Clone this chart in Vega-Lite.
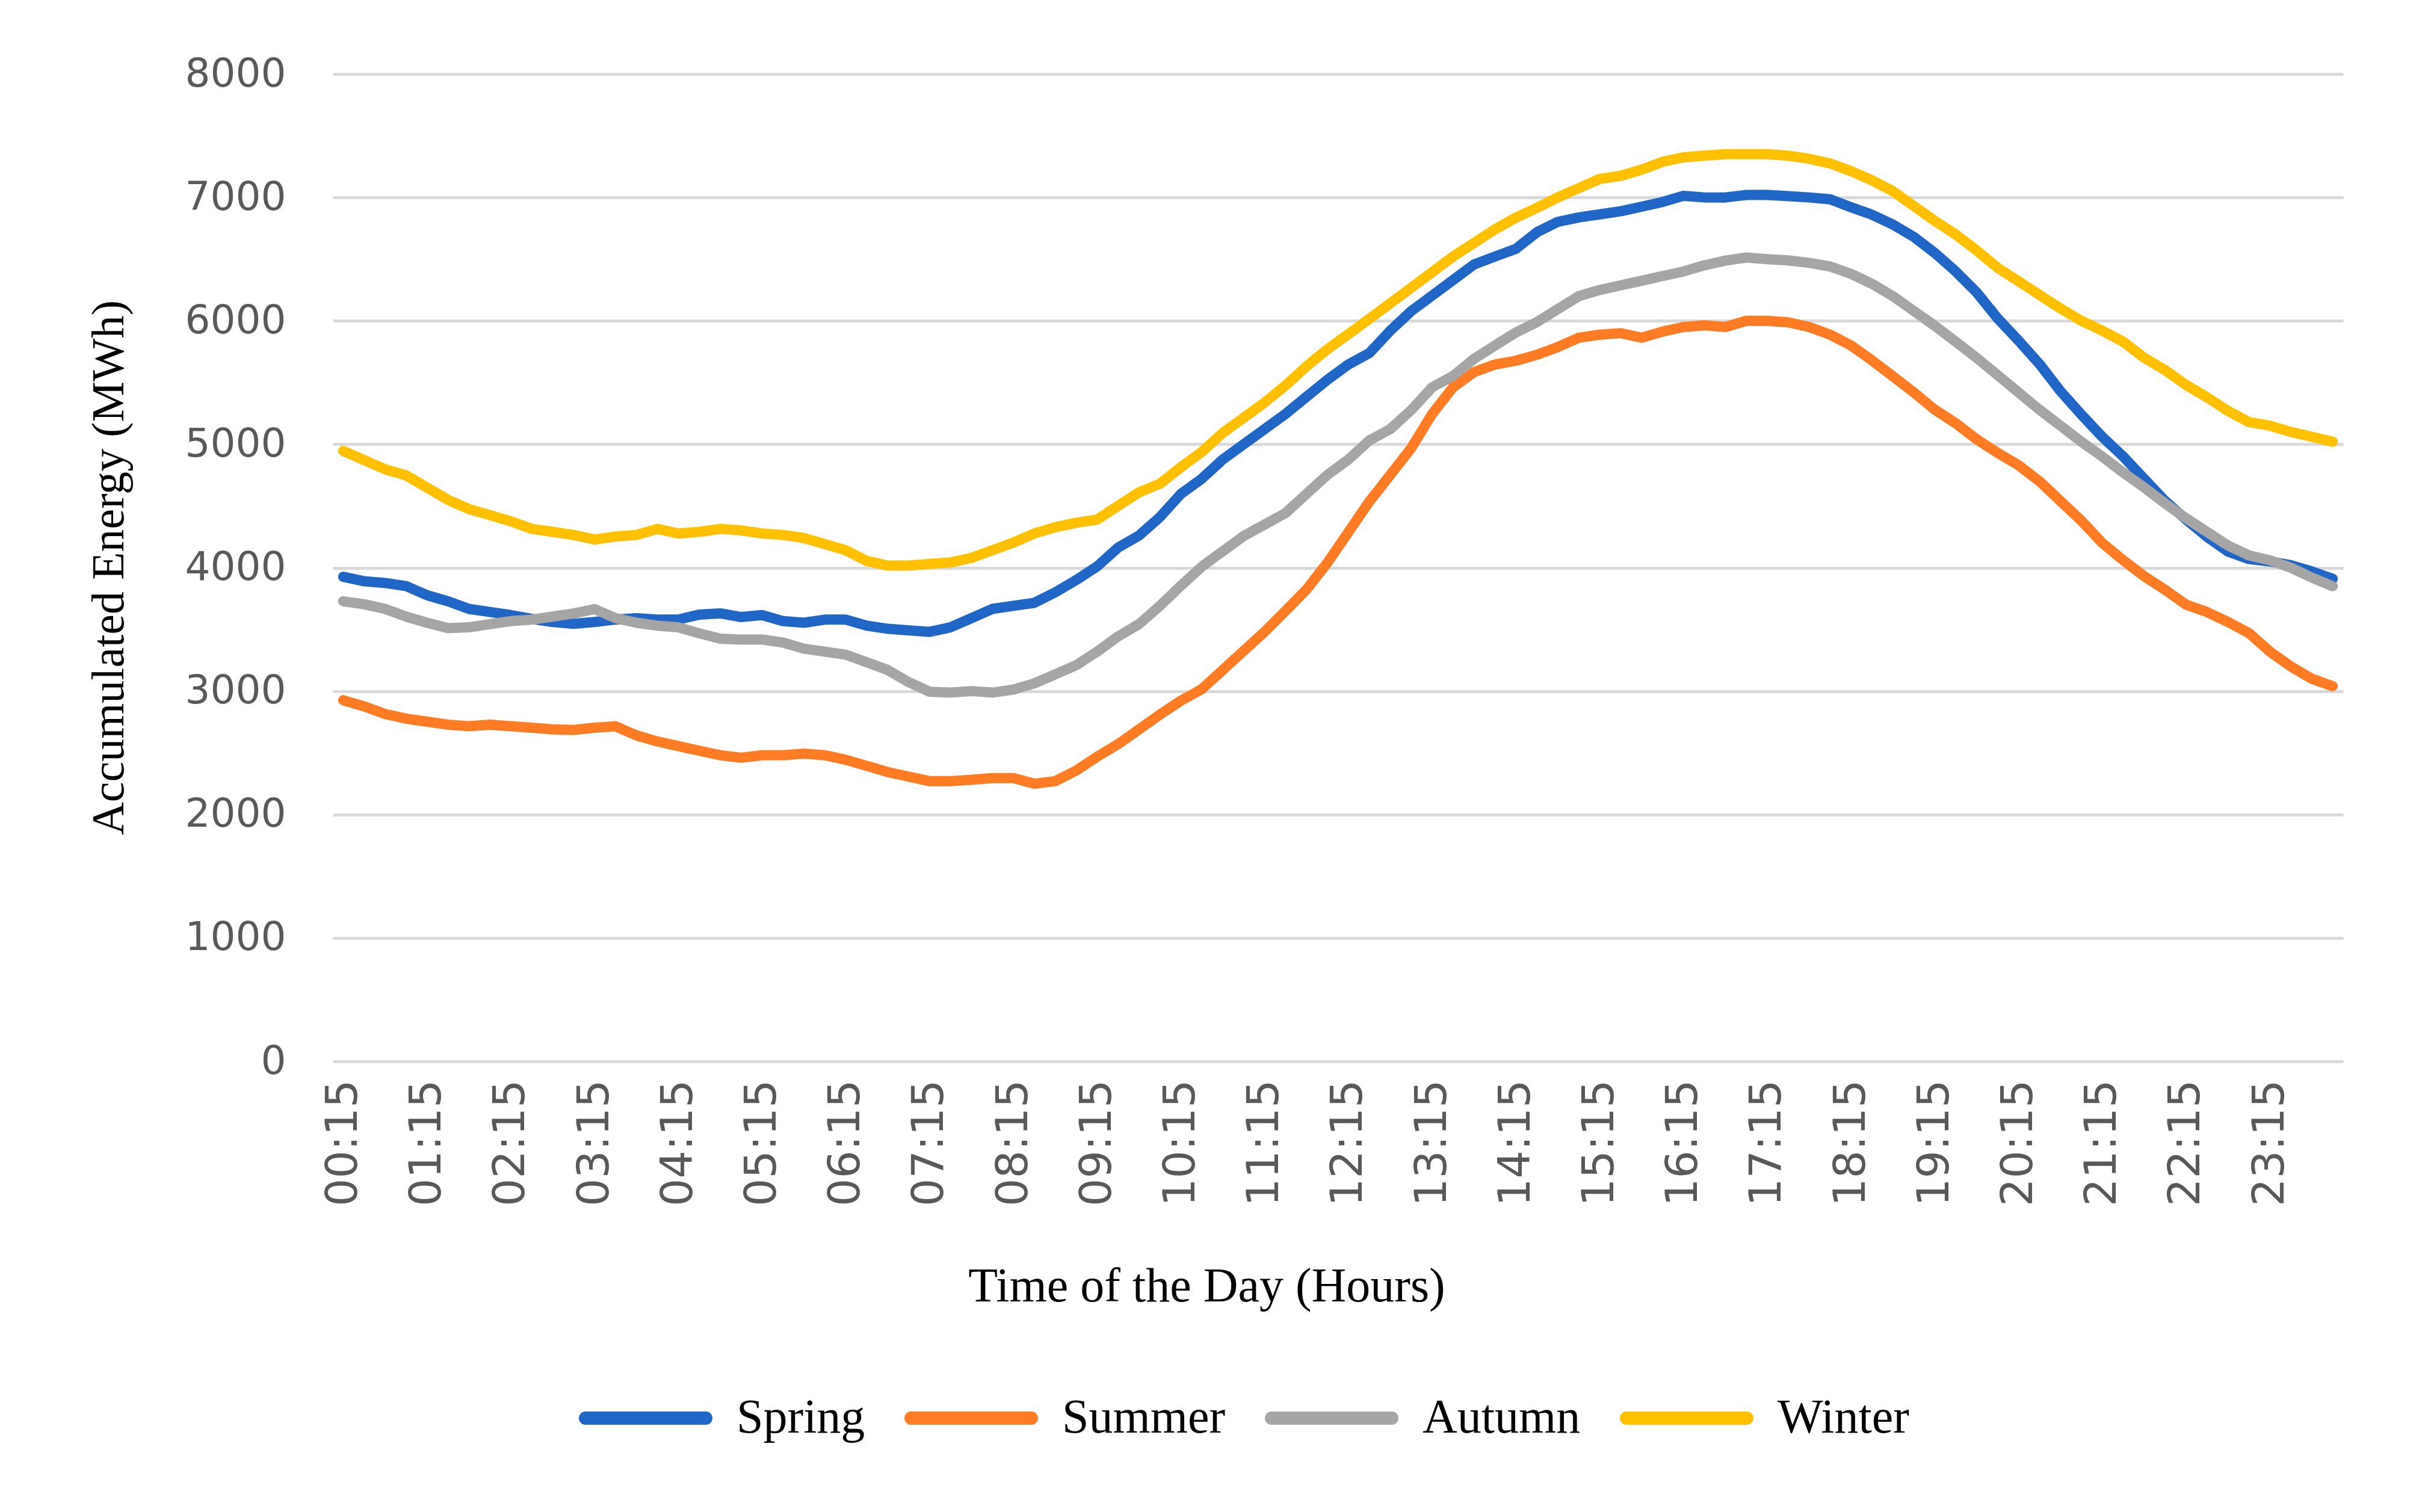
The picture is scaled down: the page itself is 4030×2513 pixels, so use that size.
{
  "$schema": "https://vega.github.io/schema/vega-lite/v6.json",
  "width": 3341,
  "height": 1641,
  "autosize": {"type": "none"},
  "padding": {"left": 553, "top": 123, "right": 136, "bottom": 749},
  "background": "white",
  "config": {"view": {"stroke": null}},
  "data": {"values": [
    {"t":"00:15","Spring":3926,"Summer":2926,"Autumn":3728,"Winter":4946},
    {"t":"00:30","Spring":3890,"Summer":2876,"Autumn":3703,"Winter":4871},
    {"t":"00:45","Spring":3876,"Summer":2814,"Autumn":3666,"Winter":4797},
    {"t":"01:00","Spring":3851,"Summer":2777,"Autumn":3604,"Winter":4748},
    {"t":"01:15","Spring":3777,"Summer":2752,"Autumn":3554,"Winter":4649},
    {"t":"01:30","Spring":3728,"Summer":2728,"Autumn":3510,"Winter":4550},
    {"t":"01:45","Spring":3666,"Summer":2715,"Autumn":3517,"Winter":4475},
    {"t":"02:00","Spring":3641,"Summer":2728,"Autumn":3542,"Winter":4426},
    {"t":"02:15","Spring":3616,"Summer":2715,"Autumn":3567,"Winter":4376},
    {"t":"02:30","Spring":3585,"Summer":2703,"Autumn":3579,"Winter":4314},
    {"t":"02:45","Spring":3560,"Summer":2690,"Autumn":3604,"Winter":4290},
    {"t":"03:00","Spring":3545,"Summer":2685,"Autumn":3629,"Winter":4265},
    {"t":"03:15","Spring":3560,"Summer":2703,"Autumn":3665,"Winter":4228},
    {"t":"03:30","Spring":3580,"Summer":2715,"Autumn":3591,"Winter":4252},
    {"t":"03:45","Spring":3590,"Summer":2641,"Autumn":3554,"Winter":4265},
    {"t":"04:00","Spring":3580,"Summer":2592,"Autumn":3530,"Winter":4314},
    {"t":"04:15","Spring":3580,"Summer":2554,"Autumn":3517,"Winter":4277},
    {"t":"04:30","Spring":3620,"Summer":2517,"Autumn":3468,"Winter":4290},
    {"t":"04:45","Spring":3630,"Summer":2480,"Autumn":3425,"Winter":4314},
    {"t":"05:00","Spring":3600,"Summer":2460,"Autumn":3418,"Winter":4302},
    {"t":"05:15","Spring":3616,"Summer":2480,"Autumn":3418,"Winter":4277},
    {"t":"05:30","Spring":3567,"Summer":2480,"Autumn":3393,"Winter":4265},
    {"t":"05:45","Spring":3554,"Summer":2493,"Autumn":3344,"Winter":4240},
    {"t":"06:00","Spring":3579,"Summer":2480,"Autumn":3319,"Winter":4191},
    {"t":"06:15","Spring":3579,"Summer":2443,"Autumn":3295,"Winter":4141},
    {"t":"06:30","Spring":3530,"Summer":2394,"Autumn":3233,"Winter":4054},
    {"t":"06:45","Spring":3505,"Summer":2344,"Autumn":3171,"Winter":4017},
    {"t":"07:00","Spring":3492,"Summer":2307,"Autumn":3072,"Winter":4017},
    {"t":"07:15","Spring":3480,"Summer":2270,"Autumn":2995,"Winter":4030},
    {"t":"07:30","Spring":3517,"Summer":2270,"Autumn":2988,"Winter":4042},
    {"t":"07:45","Spring":3591,"Summer":2282,"Autumn":3000,"Winter":4079},
    {"t":"08:00","Spring":3666,"Summer":2295,"Autumn":2988,"Winter":4141},
    {"t":"08:15","Spring":3691,"Summer":2295,"Autumn":3012,"Winter":4203},
    {"t":"08:30","Spring":3715,"Summer":2250,"Autumn":3062,"Winter":4277},
    {"t":"08:45","Spring":3800,"Summer":2270,"Autumn":3136,"Winter":4327},
    {"t":"09:00","Spring":3900,"Summer":2356,"Autumn":3210,"Winter":4364},
    {"t":"09:15","Spring":4010,"Summer":2468,"Autumn":3319,"Winter":4389},
    {"t":"09:30","Spring":4163,"Summer":2570,"Autumn":3443,"Winter":4500},
    {"t":"09:45","Spring":4260,"Summer":2690,"Autumn":3542,"Winter":4610},
    {"t":"10:00","Spring":4410,"Summer":2810,"Autumn":3691,"Winter":4680},
    {"t":"10:15","Spring":4598,"Summer":2922,"Autumn":3854,"Winter":4814},
    {"t":"10:30","Spring":4721,"Summer":3016,"Autumn":4009,"Winter":4938},
    {"t":"10:45","Spring":4877,"Summer":3171,"Autumn":4133,"Winter":5092},
    {"t":"11:00","Spring":5000,"Summer":3326,"Autumn":4257,"Winter":5215},
    {"t":"11:15","Spring":5123,"Summer":3481,"Autumn":4350,"Winter":5338},
    {"t":"11:30","Spring":5246,"Summer":3650,"Autumn":4443,"Winter":5477},
    {"t":"11:45","Spring":5385,"Summer":3823,"Autumn":4598,"Winter":5631},
    {"t":"12:00","Spring":5523,"Summer":4040,"Autumn":4752,"Winter":5770},
    {"t":"12:15","Spring":5647,"Summer":4288,"Autumn":4877,"Winter":5892},
    {"t":"12:30","Spring":5739,"Summer":4536,"Autumn":5031,"Winter":6016},
    {"t":"12:45","Spring":5921,"Summer":4752,"Autumn":5123,"Winter":6142},
    {"t":"13:00","Spring":6079,"Summer":4969,"Autumn":5277,"Winter":6268},
    {"t":"13:15","Spring":6205,"Summer":5246,"Autumn":5462,"Winter":6394},
    {"t":"13:30","Spring":6331,"Summer":5462,"Autumn":5554,"Winter":6521},
    {"t":"13:45","Spring":6457,"Summer":5585,"Autumn":5692,"Winter":6631},
    {"t":"14:00","Spring":6521,"Summer":5646,"Autumn":5800,"Winter":6741},
    {"t":"14:15","Spring":6584,"Summer":5677,"Autumn":5906,"Winter":6836},
    {"t":"14:30","Spring":6718,"Summer":5725,"Autumn":5990,"Winter":6915},
    {"t":"14:45","Spring":6802,"Summer":5788,"Autumn":6095,"Winter":7000},
    {"t":"15:00","Spring":6838,"Summer":5863,"Autumn":6200,"Winter":7075},
    {"t":"15:15","Spring":6863,"Summer":5888,"Autumn":6250,"Winter":7150},
    {"t":"15:30","Spring":6888,"Summer":5900,"Autumn":6288,"Winter":7175},
    {"t":"15:45","Spring":6925,"Summer":5863,"Autumn":6325,"Winter":7225},
    {"t":"16:00","Spring":6963,"Summer":5913,"Autumn":6363,"Winter":7288},
    {"t":"16:15","Spring":7013,"Summer":5950,"Autumn":6400,"Winter":7325},
    {"t":"16:30","Spring":7000,"Summer":5963,"Autumn":6450,"Winter":7338},
    {"t":"16:45","Spring":7000,"Summer":5950,"Autumn":6488,"Winter":7350},
    {"t":"17:00","Spring":7020,"Summer":6000,"Autumn":6513,"Winter":7350},
    {"t":"17:15","Spring":7020,"Summer":6000,"Autumn":6500,"Winter":7350},
    {"t":"17:30","Spring":7010,"Summer":5988,"Autumn":6490,"Winter":7338},
    {"t":"17:45","Spring":7000,"Summer":5950,"Autumn":6470,"Winter":7313},
    {"t":"18:00","Spring":6985,"Summer":5888,"Autumn":6440,"Winter":7275},
    {"t":"18:15","Spring":6920,"Summer":5800,"Autumn":6380,"Winter":7213},
    {"t":"18:30","Spring":6860,"Summer":5680,"Autumn":6300,"Winter":7138},
    {"t":"18:45","Spring":6780,"Summer":5550,"Autumn":6200,"Winter":7050},
    {"t":"19:00","Spring":6680,"Summer":5420,"Autumn":6080,"Winter":6930},
    {"t":"19:15","Spring":6550,"Summer":5280,"Autumn":5960,"Winter":6810},
    {"t":"19:30","Spring":6400,"Summer":5170,"Autumn":5830,"Winter":6700},
    {"t":"19:45","Spring":6230,"Summer":5040,"Autumn":5700,"Winter":6570},
    {"t":"20:00","Spring":6020,"Summer":4930,"Autumn":5560,"Winter":6430},
    {"t":"20:15","Spring":5840,"Summer":4830,"Autumn":5420,"Winter":6320},
    {"t":"20:30","Spring":5650,"Summer":4700,"Autumn":5280,"Winter":6210},
    {"t":"20:45","Spring":5430,"Summer":4540,"Autumn":5150,"Winter":6100},
    {"t":"21:00","Spring":5240,"Summer":4380,"Autumn":5020,"Winter":6000},
    {"t":"21:15","Spring":5060,"Summer":4200,"Autumn":4900,"Winter":5920},
    {"t":"21:30","Spring":4900,"Summer":4060,"Autumn":4770,"Winter":5830},
    {"t":"21:45","Spring":4720,"Summer":3930,"Autumn":4650,"Winter":5700},
    {"t":"22:00","Spring":4540,"Summer":3820,"Autumn":4520,"Winter":5600},
    {"t":"22:15","Spring":4390,"Summer":3700,"Autumn":4400,"Winter":5480},
    {"t":"22:30","Spring":4250,"Summer":3640,"Autumn":4290,"Winter":5380},
    {"t":"22:45","Spring":4130,"Summer":3560,"Autumn":4180,"Winter":5270},
    {"t":"23:00","Spring":4070,"Summer":3470,"Autumn":4100,"Winter":5180},
    {"t":"23:15","Spring":4050,"Summer":3320,"Autumn":4060,"Winter":5150},
    {"t":"23:30","Spring":4020,"Summer":3200,"Autumn":4000,"Winter":5100},
    {"t":"23:45","Spring":3970,"Summer":3100,"Autumn":3920,"Winter":5060},
    {"t":"24:00","Spring":3910,"Summer":3040,"Autumn":3850,"Winter":5020}
  ]},
  "transform": [{"fold": ["Spring", "Summer", "Autumn", "Winter"], "as": ["Season", "Energy"]}],
  "mark": {"type": "line", "strokeWidth": 17, "strokeCap": "round", "strokeJoin": "round"},
  "encoding": {
    "x": {
      "field": "t",
      "type": "ordinal",
      "sort": null,
      "scale": {"type": "point", "padding": 0.5},
      "axis": {
        "title": "Time of the Day (Hours)",
        "values": ["00:15","01:15","02:15","03:15","04:15","05:15","06:15","07:15","08:15","09:15","10:15","11:15","12:15","13:15","14:15","15:15","16:15","17:15","18:15","19:15","20:15","21:15","22:15","23:15"],
        "labelAngle": 270,
        "labelAlign": "right",
        "labelBaseline": "middle",
        "labelFont": "DejaVu Sans",
        "labelFontSize": 73,
        "labelColor": "#595959",
        "labelPadding": 30,
        "labelLimit": 1000,
        "labelOverlap": false,
        "ticks": false,
        "domain": false,
        "grid": false,
        "titleFont": "Liberation Serif",
        "titleFontSize": 80,
        "titleFontWeight": "normal",
        "titleColor": "#000000",
        "titleX": 1452,
        "titleY": 398,
        "titleAlign": "center",
        "titleBaseline": "alphabetic"
      }
    },
    "y": {
      "field": "Energy",
      "type": "quantitative",
      "scale": {"domain": [0, 8000]},
      "axis": {
        "title": "Accumulated Energy (MWh)",
        "values": [0, 1000, 2000, 3000, 4000, 5000, 6000, 7000, 8000],
        "format": "d",
        "labelFont": "DejaVu Sans",
        "labelFontSize": 66,
        "labelColor": "#595959",
        "labelPadding": 78,
        "ticks": false,
        "domain": false,
        "grid": true,
        "gridColor": "#d9d9d9",
        "gridWidth": 5,
        "titleFont": "Liberation Serif",
        "titleFontSize": 76,
        "titleFontWeight": "normal",
        "titleColor": "#000000",
        "titleAngle": 270,
        "titleX": -333,
        "titleY": 820,
        "titleAlign": "center",
        "titleBaseline": "bottom"
      }
    },
    "color": {
      "field": "Season",
      "type": "nominal",
      "scale": {"domain": ["Spring", "Summer", "Autumn", "Winter"], "range": ["#1F66C6", "#FF7C24", "#A5A5A5", "#FFC000"]},
      "legend": {
        "orient": "none",
        "legendX": 409,
        "legendY": 2123,
        "direction": "horizontal",
        "columns": 4,
        "title": null,
        "padding": 0,
        "symbolType": "stroke",
        "symbolSize": 40000,
        "symbolStrokeWidth": 22,
        "labelFont": "Liberation Serif",
        "labelFontSize": 80,
        "labelColor": "#000000",
        "labelOffset": 40,
        "columnPadding": 32,
        "labelLimit": 1000,
        "encode": {"symbols": {"update": {"strokeCap": {"value": "round"}}}}
      }
    }
  }
}
